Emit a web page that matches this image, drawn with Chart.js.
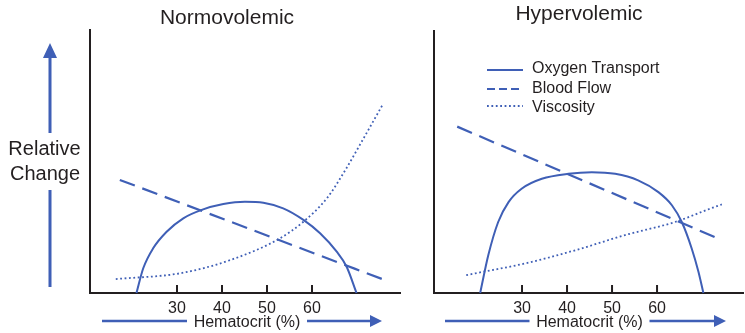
<!DOCTYPE html>
<html>
<head>
<meta charset="utf-8">
<script src="https://cdn.jsdelivr.net/npm/chart.js@4.4.1/dist/chart.umd.min.js"></script>
<style>
  html, body { margin: 0; padding: 0; background: #fff; }
  #wrap { position: relative; width: 745px; height: 333px; }
  canvas { position: absolute; top: 0; }
</style>
</head>
<body>
<div id="wrap">
  <canvas id="normo" width="410" height="333" style="left:0"></canvas>
  <canvas id="hyper" width="335" height="333" style="left:410px"></canvas>
</div>
<script>
// hematocrit ticks shown on both panels
const hctTicks = [30, 40, 50, 60];
const seriesNames = ['Oxygen Transport', 'Blood Flow', 'Viscosity'];

// Normovolemic (hematocrit %, relative change 0-100)
const normoOxygenX = [21.0, 22.5, 24.7, 27.7, 31.4, 35.5, 40.3, 45.1, 49.2, 53.6, 58.1, 61.8, 65.5, 67.7, 69.9];
const normoOxygenY = [0, 9.4, 17.0, 23.3, 28.4, 31.6, 33.8, 34.7, 34.3, 32.2, 27.8, 22.7, 15.7, 10.0, 0];
const normoFlowX = [17.3, 75.6];
const normoFlowY = [43.0, 5.3];
const normoViscX = [16.4, 30.7, 41.8, 52.9, 58.1, 63.3, 67.5, 70.7, 75.8];
const normoViscY = [5.3, 7.5, 12.5, 20.8, 27.1, 36.0, 47.0, 56.5, 71.9];

// Hypervolemic
const hyperOxygenX = [20.7, 22.5, 24.7, 27.0, 29.9, 34.4, 40.3, 45.5, 50.7, 55.8, 60.3, 63.3, 65.5, 67.7, 69.2, 70.3];
const hyperOxygenY = [0, 14.4, 27.1, 34.7, 39.8, 43.6, 45.5, 46.1, 45.5, 43.0, 38.5, 33.5, 27.1, 17.0, 8.1, 0];
const hyperFlowX = [15.6, 74.4];
const hyperFlowY = [63.5, 20.2];
const hyperViscX = [17.6, 19.6, 30.7, 41.8, 52.9, 64.0, 71.8, 74.4];
const hyperViscY = [6.8, 7.5, 11.3, 16.3, 22.1, 27.1, 32.2, 33.8];

const BLUE = '#3f5fb6';
const INK = '#231f20';
const FONT = "'Liberation Sans', Arial, Helvetica, sans-serif";
const dashes = [[], [16, 8], [1.8, 2.6]];
const widths = [2, 2.2, 1.8];

function pts(xs, ys) {
  return xs.map((x, i) => ({x: x, y: ys[i]}));
}

function arrowRight(ctx, x1, x2, tip, y, gapFrom, gapTo) {
  ctx.save();
  ctx.strokeStyle = BLUE;
  ctx.fillStyle = BLUE;
  ctx.lineWidth = 2.5;
  ctx.beginPath();
  ctx.moveTo(x1, y); ctx.lineTo(gapFrom, y);
  ctx.moveTo(gapTo, y); ctx.lineTo(x2, y);
  ctx.stroke();
  ctx.beginPath();
  ctx.moveTo(x2, y - 6); ctx.lineTo(tip, y); ctx.lineTo(x2, y + 6);
  ctx.closePath();
  ctx.fill();
  ctx.restore();
}

// extra drawing: tick marks, title, axis arrows, legend
const decorPlugin = {
  id: 'decor',
  afterDraw(chart, args, o) {
    const ctx = chart.ctx;
    const xs = chart.scales.x;
    const area = chart.chartArea;
    ctx.save();
    // inward tick marks
    ctx.strokeStyle = INK;
    ctx.lineWidth = 2;
    hctTicks.forEach(t => {
      const px = xs.getPixelForValue(t);
      ctx.beginPath();
      ctx.moveTo(px, area.bottom - 8);
      ctx.lineTo(px, area.bottom);
      ctx.stroke();
    });
    // panel title
    ctx.fillStyle = INK;
    ctx.font = '21px ' + FONT;
    ctx.textAlign = 'center';
    ctx.textBaseline = 'alphabetic';
    ctx.fillText(o.title, o.titleX, o.titleY);
    // x-axis caption with arrow
    ctx.font = '16px ' + FONT;
    ctx.fillText('Hematocrit (%)', o.capX, 327);
    arrowRight(ctx, o.arrow[0], o.arrow[1], o.arrow[2], 321, o.capX - 60, o.capX + 60);

    if (o.yLabel) {
      ctx.font = '20px ' + FONT;
      ctx.fillText('Relative', 44.5, 155);
      ctx.fillText('Change', 45, 180);
      ctx.strokeStyle = BLUE;
      ctx.fillStyle = BLUE;
      ctx.lineWidth = 3;
      ctx.beginPath();
      ctx.moveTo(50, 287); ctx.lineTo(50, 190);
      ctx.moveTo(50, 133); ctx.lineTo(50, 56);
      ctx.stroke();
      ctx.beginPath();
      ctx.moveTo(43, 58); ctx.lineTo(50, 43); ctx.lineTo(57, 58);
      ctx.closePath();
      ctx.fill();
    }

    if (o.legend) {
      const rows = [70, 89, 106];
      const textY = [69, 88.5, 107.5];
      seriesNames.forEach((name, i) => {
        ctx.strokeStyle = BLUE;
        ctx.lineWidth = i === 2 ? 1.8 : 2.2;
        ctx.setLineDash(i === 1 ? [8, 4] : dashes[i]);
        ctx.beginPath();
        ctx.moveTo(77, rows[i]);
        ctx.lineTo(113, rows[i]);
        ctx.stroke();
        ctx.setLineDash([]);
        ctx.fillStyle = INK;
        ctx.font = '16px ' + FONT;
        ctx.textAlign = 'left';
        ctx.textBaseline = 'middle';
        ctx.fillText(name, 122, textY[i]);
      });
    }
    ctx.restore();
  }
};

function makePanel(id, series, cfg) {
  const datasets = series.map((s, i) => ({
    label: seriesNames[i],
    data: pts(s[0], s[1]),
    borderColor: BLUE,
    borderWidth: widths[i],
    borderDash: dashes[i],
    pointRadius: 0,
    fill: false,
    clip: false,
    cubicInterpolationMode: 'monotone'
  }));
  return new Chart(document.getElementById(id), {
    type: 'line',
    data: {datasets: datasets},
    plugins: [decorPlugin],
    options: {
      responsive: false,
      animation: false,
      layout: {padding: {left: 0, right: cfg.padRight, top: cfg.top, bottom: 0}},
      plugins: {
        legend: {display: false},
        tooltip: {enabled: false},
        decor: cfg.decor
      },
      scales: {
        x: {
          type: 'linear',
          min: cfg.xMin,
          max: cfg.xMax,
          afterFit: s => { s.height = 40; },
          afterBuildTicks: s => { s.ticks = hctTicks.map(v => ({value: v})); },
          grid: {display: false, drawTicks: false},
          border: {display: true, color: INK, width: 2},
          ticks: {color: INK, padding: 6, font: {size: 16, family: FONT}}
        },
        y: {
          min: 0,
          max: 100,
          afterFit: s => { s.width = cfg.yWidth; },
          grid: {display: false, drawTicks: false},
          border: {display: true, color: INK, width: 2},
          ticks: {display: false}
        }
      }
    }
  });
}

makePanel('normo',
  [[normoOxygenX, normoOxygenY], [normoFlowX, normoFlowY], [normoViscX, normoViscY]],
  {
    xMin: 10.67, xMax: 79.56, yWidth: 90, padRight: 10, top: 30,
    decor: {title: 'Normovolemic', titleX: 227, titleY: 24, capX: 247,
            arrow: [102, 370, 382], yLabel: true, legend: false}
  });

makePanel('hyper',
  [[hyperOxygenX, hyperOxygenY], [hyperFlowX, hyperFlowY], [hyperViscX, hyperViscY]],
  {
    xMin: 10.44, xMax: 79.1, yWidth: 24, padRight: 2, top: 31,
    decor: {title: 'Hypervolemic', titleX: 169, titleY: 20, capX: 179.5,
            arrow: [35, 304, 316], yLabel: false, legend: true}
  });
</script>
</body>
</html>
